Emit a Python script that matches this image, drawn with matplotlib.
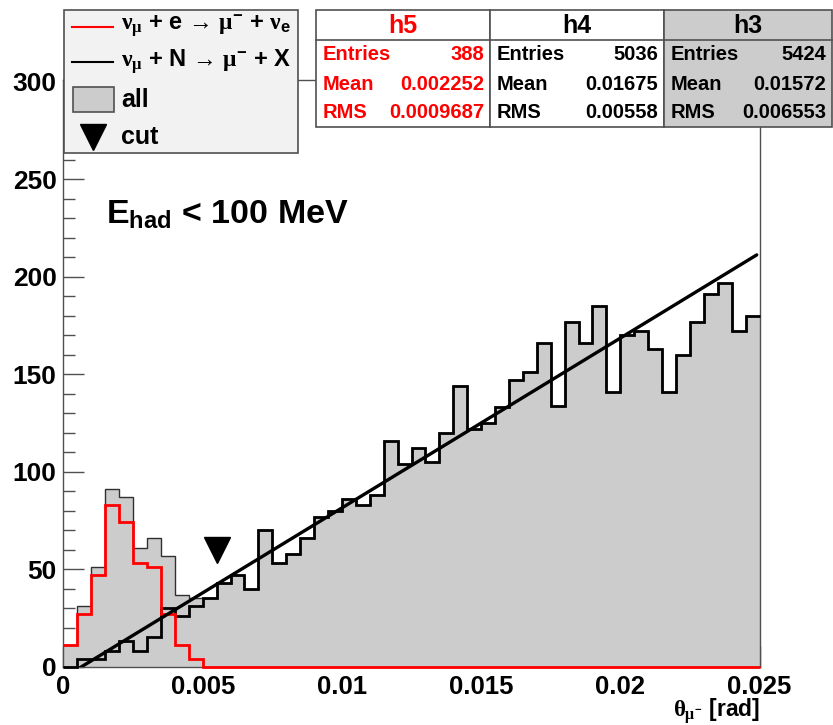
import numpy as np
import matplotlib
matplotlib.use("Agg")
import matplotlib.pyplot as plt
from matplotlib.patches import Rectangle
from matplotlib.lines import Line2D

# ---------------------------------------------------------------- data
x_lo, x_hi, n_bins = 0.0, 0.025, 50

# nu_mu + e -> mu- + nu_e   (h5)
h5_counts = [11, 27, 47, 83, 74, 53, 51, 27, 11, 4,
             0, 0, 0, 0, 0, 0, 0, 0, 0, 0,
             0, 0, 0, 0, 0, 0, 0, 0, 0, 0,
             0, 0, 0, 0, 0, 0, 0, 0, 0, 0,
             0, 0, 0, 0, 0, 0, 0, 0, 0, 0]

# nu_mu + N -> mu- + X   (h4)
h4_counts = [0, 4, 4, 8, 13, 8, 15, 30, 26, 31,
             35, 43, 47, 40, 70, 53, 58, 66, 77, 80,
             86, 83, 88, 116, 104, 112, 105, 120, 144, 122,
             125, 133, 147, 151, 166, 134, 177, 166, 185, 141,
             170, 172, 163, 141, 160, 177, 191, 197, 172, 180]

# linear fit to h4: y = p0 + p1 * x
fit_p0, fit_p1 = -5.66, 8712.0
fit_range = (0.0, 0.0249)

cut_x, cut_y = 0.0055, 60.0

stat_names = ["h5", "h4", "h3"]
stat_entries = ["388", "5036", "5424"]
stat_means = ["0.002252", "0.01675", "0.01572"]
stat_rms = ["0.0009687", "0.00558", "0.006553"]

legend_labels = [r"$\nu_{\mu}$ + e → $\mu^{-}$ + $\nu_{\mathbf{e}}$",
                 r"$\nu_{\mu}$ + N → $\mu^{-}$ + X",
                 "all", "cut"]

x_ticks = [0, 0.005, 0.01, 0.015, 0.02, 0.025]
x_tick_labels = ["0", "0.005", "0.01", "0.015", "0.02", "0.025"]
y_ticks = [0, 50, 100, 150, 200, 250, 300]
y_max = 301

# ---------------------------------------------------------------- style
plt.rcParams["font.family"] = ["Liberation Sans", "DejaVu Sans"]
plt.rcParams["font.weight"] = "bold"
plt.rcParams["mathtext.fontset"] = "custom"
plt.rcParams["mathtext.rm"] = "Liberation Sans:bold"
plt.rcParams["mathtext.bf"] = "Liberation Sans:bold"
plt.rcParams["mathtext.sf"] = "Liberation Sans:bold"
plt.rcParams["mathtext.it"] = "Liberation Serif"

W, H = 833, 725
fig = plt.figure(figsize=(W / 100, H / 100), dpi=100)


def fx(px):
    return px / W


def fy(py):
    return 1 - py / H


ax_l, ax_r, ax_t, ax_b = 63.5, 759.5, 80.0, 666.7
ax = fig.add_axes([fx(ax_l), fy(ax_b), (ax_r - ax_l) / W, (ax_b - ax_t) / H])

edges = np.linspace(x_lo, x_hi, n_bins + 1)
h4 = np.array(h4_counts, dtype=float)
h5 = np.array(h5_counts, dtype=float)
h3 = h4 + h5  # "all"

frame_col = "#505050"
gray_fill = "#cccccc"

ax.stairs(h3, edges, fill=True, facecolor=gray_fill, edgecolor="none", zorder=1)
ax.stairs(h3, edges, baseline=None, color="#303030", lw=1.0, zorder=2)
ax.stairs(h4, edges, baseline=None, color="black", lw=2.0, zorder=3, clip_on=False)
ax.stairs(h5, edges, baseline=None, color="#ff0000", lw=2.0, zorder=4, clip_on=False)

fx_line = np.linspace(fit_range[0], fit_range[1], 200)
ax.plot(fx_line, fit_p0 + fit_p1 * fx_line, color="black", lw=2.4, zorder=5,
        solid_capstyle="round")

ax.plot([cut_x], [cut_y], marker="v", markersize=19, color="black",
        linestyle="none", zorder=6, clip_on=False)

ax.set_xlim(x_lo, x_hi)
ax.set_ylim(0, y_max)
ax.set_axisbelow(True)

ax.set_xticks(x_ticks)
ax.set_xticklabels(x_tick_labels)
ax.set_yticks(y_ticks)
ax.set_yticks(np.arange(0, y_max, 10), minor=True)
ax.set_xticks(np.arange(0, 0.02501, 0.001), minor=True)
ax.tick_params(axis="both", which="major", direction="in", length=15, width=1,
               color=frame_col, labelcolor="black")
ax.tick_params(axis="y", which="major", labelsize=19, pad=5)
ax.tick_params(axis="x", which="major", labelsize=18.5, pad=6)
ax.tick_params(axis="both", which="minor", direction="in", length=8.5, width=1,
               color=frame_col)
for lab in ax.get_xticklabels() + ax.get_yticklabels():
    lab.set_fontweight("bold")
for s in ax.spines.values():
    s.set_color(frame_col)
    s.set_linewidth(1.0)

# axis title
fig.text(fx(760), fy(711), r"$\theta_{\mu^{-}}$ [rad]", ha="right", va="center",
         fontsize=16.5, fontweight="bold")

# energy cut annotation
fig.text(fx(106), fy(215), r"$\mathbf{E_{had}}$ < 100 MeV", ha="left", va="center",
         fontsize=24.5, fontweight="bold")

# ---------------------------------------------------------------- legend
leg_x0, leg_x1, leg_y0, leg_y1 = 64, 298, 10, 153
fig.add_artist(Rectangle((fx(leg_x0), fy(leg_y1)), (leg_x1 - leg_x0) / W,
                         (leg_y1 - leg_y0) / H, transform=fig.transFigure,
                         facecolor="#f2f2f2", edgecolor=frame_col, lw=1.2, zorder=10))
rows_y = [27, 62, 100, 137]
fig.add_artist(Line2D([fx(72), fx(113)], [fy(rows_y[0])] * 2, transform=fig.transFigure,
                      color="#ff0000", lw=1.5, zorder=11))
fig.add_artist(Line2D([fx(72), fx(113)], [fy(rows_y[1])] * 2, transform=fig.transFigure,
                      color="black", lw=1.5, zorder=11))
fig.add_artist(Rectangle((fx(73), fy(112)), 41 / W, 25 / H, transform=fig.transFigure,
                         facecolor=gray_fill, edgecolor=frame_col, lw=1.2, zorder=11))
fig.add_artist(Line2D([fx(93)], [fy(rows_y[3])], transform=fig.transFigure,
                      marker="v", markersize=19, color="black", linestyle="none",
                      zorder=11))
for k, (lab, yy) in enumerate(zip(legend_labels, rows_y)):
    fig.text(fx(121), fy(yy), lab, ha="left", va="center",
             fontsize=17 if k < 2 else 18, fontweight="bold", zorder=12)

# ---------------------------------------------------------------- stat boxes
box_edges = [316, 490, 664, 832]
box_fill = ["white", "white", gray_fill]
box_text = ["#ff0000", "black", "black"]
st_y0, st_y1, st_sep = 10, 127, 40
for i, name in enumerate(stat_names):
    bx0, bx1 = box_edges[i], box_edges[i + 1]
    fig.add_artist(Rectangle((fx(bx0), fy(st_y1)), (bx1 - bx0) / W, (st_y1 - st_y0) / H,
                             transform=fig.transFigure, facecolor=box_fill[i],
                             edgecolor=frame_col, lw=1.2, zorder=10))
    fig.add_artist(Line2D([fx(bx0), fx(bx1)], [fy(st_sep)] * 2, transform=fig.transFigure,
                          color=frame_col, lw=1.2, zorder=11))
    fig.text(fx((bx0 + bx1) / 2), fy(26), name, ha="center", va="center",
             fontsize=18, fontweight="bold", color=box_text[i], zorder=12)
    for lab, val, yy in zip(["Entries", "Mean", "RMS"],
                            [stat_entries[i], stat_means[i], stat_rms[i]],
                            [55, 84, 113]):
        fig.text(fx(bx0 + 7), fy(yy), lab, ha="left", va="center", fontsize=14.5,
                 fontweight="bold", color=box_text[i], zorder=12)
        fig.text(fx(bx1 - 6), fy(yy), val, ha="right", va="center", fontsize=14.5,
                 fontweight="bold", color=box_text[i], zorder=12)

fig.savefig("out.png", dpi=100)
